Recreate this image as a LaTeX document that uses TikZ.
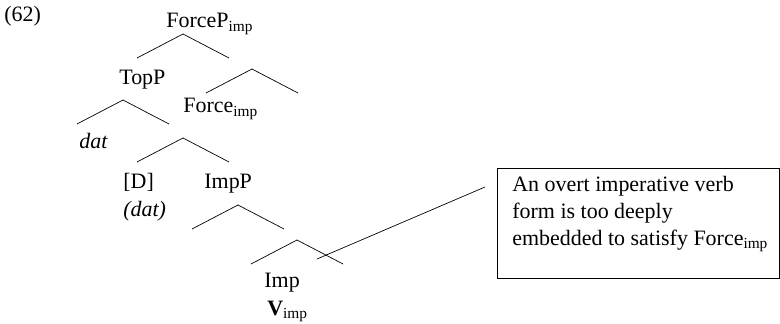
\documentclass[tikz,border=0pt]{standalone}
\usepackage{fontspec}
\setmainfont{Liberation Serif}
\usepackage{tikz}
\usetikzlibrary{calc}
\tikzstyle{treelabel}=[anchor=base west, inner sep=0pt]
\tikzstyle{notebox}=[draw, anchor=north west, minimum width=5.64cm, minimum height=2.2cm]
\tikzstyle{notetext}=[anchor=north west, align=left, inner sep=0pt, font=\fontsize{12.5}{15.3}\selectfont]
\newcommand{\subimp}{\textsubscript{imp}}
\newcommand{\branch}[1]{
 \draw ($#1+(-46,24)$) -- #1 -- ($#1+(46,24)$);
}

\begin{document}
\begin{tikzpicture}[x=0.02cm, y=-0.02cm, font=\fontsize{12.5}{15}\selectfont]
 \useasboundingbox (0,0) rectangle (780,324);
 \node[treelabel] (num) at (4,22) {(62)};
%
 \node[treelabel] (forcep) at (166,28) {ForceP\subimp};
 \branch{(183,34)}
 \node[treelabel] (topp) at (119,85) {TopP};
 \branch{(252,69)}
 \node[treelabel] (force) at (183,113) {Force\subimp};
 \branch{(123,100)}
 \node[treelabel] (dat) at (79,149) {\textit{dat}};
 \branch{(183,138)}
 \node[treelabel] (d) at (123,189) {[D]};
 \node[treelabel] (datp) at (123,216) {\textit{(dat)}};
 \node[treelabel] (impp) at (204,189) {ImpP};
 \branch{(238,205)}
 \branch{(297,240)}
 \node[treelabel] (imp) at (264,287) {Imp};
 \node[treelabel] (v) at (267,315) {\textbf{V}\subimp};
%
 \node[notebox] (note) at (497,168) {};
 \node[notetext] (notetxt) at ($(note.north west)+(15,8)$) {An overt imperative verb\\ form is too deeply\\ embedded to satisfy Force\subimp};
 \coordinate (cross) at (317,259);
 \coordinate (tip) at (485,187);
 \draw (cross) -- (tip);
\end{tikzpicture}
\end{document}
